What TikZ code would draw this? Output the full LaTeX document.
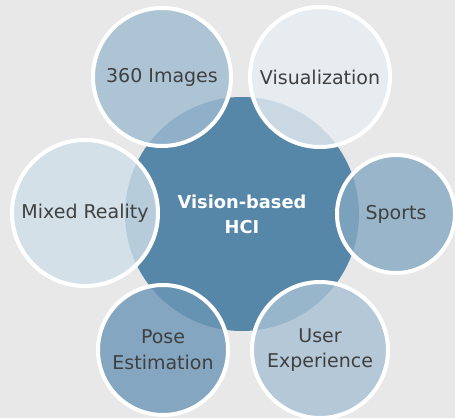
\documentclass[tikz,border=0pt]{standalone}
\usepackage{fontspec}
\setmainfont{DejaVu Sans}
\definecolor{bgrey}{RGB}{232,232,232}
\definecolor{hciblue}{RGB}{87,135,168}
\definecolor{txtgrey}{RGB}{64,64,64}
\definecolor{cimg}{RGB}{158,187,208}
\definecolor{cvis}{RGB}{230,237,242}
\definecolor{cmix}{RGB}{206,222,232}
\definecolor{cspo}{RGB}{133,169,194}
\definecolor{cpos}{RGB}{108,150,182}
\definecolor{cuxp}{RGB}{168,193,212}
\tikzset{
  hub/.style={circle,fill=hciblue,text=white,align=center,
    font=\fontsize{8.9}{12.5}\selectfont\bfseries},
  petal/.style={circle,draw=white,line width=2pt,fill opacity=0.8,text opacity=1,
    text=txtgrey,align=center,font=\fontsize{9.5}{12.8}\selectfont}
}
\begin{document}
\begin{tikzpicture}[x=0.5pt,y=-0.5pt]
      \fill[bgrey](0,0)rectangle(455,418);
      \useasboundingbox(0,0)rectangle(455,418);
      \begin{scope}
        \clip(0,0)rectangle(455,418);
        \node[hub,minimum size=117pt](hci)at(242,214){Vision-based\\HCI};
        \node[petal,fill=cimg,minimum size=69pt](img)at(162,77){360 Images};
        \node[petal,fill=cvis,minimum size=70pt](vis)at(320,77){Visualization};
        \node[petal,fill=cmix,minimum size=73pt](mix)at(85,213){Mixed Reality};
        \node[petal,fill=cspo,minimum size=59pt](spo)at(396,214){Sports};
        \node[petal,fill=cpos,minimum size=65pt](pos)at(163,350){Pose\\Estimation};
        \node[petal,fill=cuxp,minimum size=68pt](uxp)at(320,350){User\\Experience};
      \end{scope}
    \end{tikzpicture}
\end{document}
